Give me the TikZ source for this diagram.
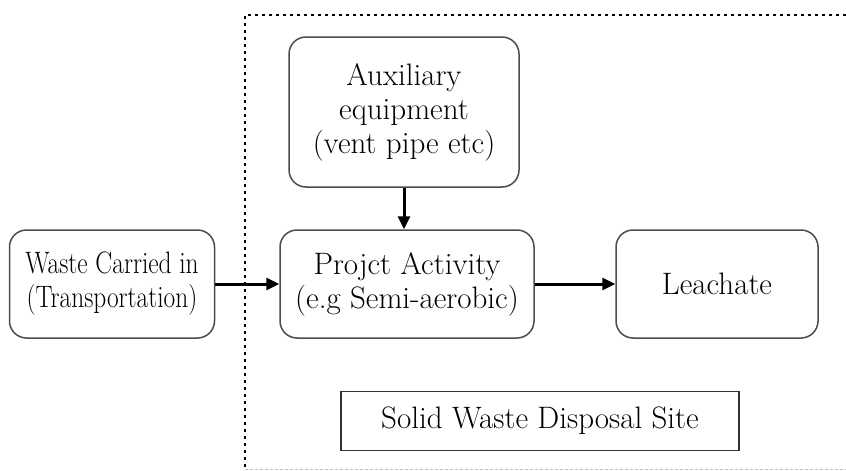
\documentclass[tikz,border=0pt]{standalone}
\usetikzlibrary{arrows.meta}
\begin{document}
\begin{tikzpicture}[x=1pt,y=-1pt,
  rbox/.style={draw=black!70, line width=1.5pt, rounded corners=17pt, fill=white,
    align=center, inner sep=0pt, font=\fontsize{31}{34}\selectfont},
  sbox/.style={draw=black!80, line width=1.5pt, fill=white, align=center, inner sep=0pt,
    font=\fontsize{31}{34}\selectfont},
  flow/.style={line width=3pt, -{Triangle[length=13pt,width=12pt]}},
  frame/.style={line width=2.6pt, dash pattern=on 2.6pt off 4.4pt},
  faint/.style={line width=0.8pt, draw=black!25, dash pattern=on 3pt off 2pt}]
\useasboundingbox (0,0) rectangle (846,471);
% dotted frame
\coordinate (ftl) at (245,15);
\coordinate (fbl) at (245,467);
\coordinate (ftr) at (846,15);
\coordinate (gbl) at (245,469);
\coordinate (gbr) at (846,469);
\draw[frame] (fbl) -- (ftl) -- (ftr);
\draw[faint] (gbl) -- (gbr);
% boxes
\node[rbox, minimum width=230pt, minimum height=150pt] (aux) at (404,112)
  {Auxiliary\\equipment\\(vent pipe etc)};
\node[rbox, minimum width=254pt, minimum height=108pt] (proj) at (407,284)
  {Projct Activity\\(e.g Semi-aerobic)};
\node[rbox, minimum width=205pt, minimum height=108pt] (waste) at (112,284)
  {\scalebox{0.82}[1]{\begin{tabular}{@{}c@{}}Waste Carried in\\(Transportation)\end{tabular}}};
\node[rbox, minimum width=202pt, minimum height=108pt] (leach) at (717,284)
  {Leachate};
\node[sbox, minimum width=398pt, minimum height=59pt] (site) at (540,421)
  {Solid Waste Disposal Site};
% connectors
\draw[flow] (aux.south) -- (aux.south |- proj.north);
\draw[flow] (waste.east) -- (proj.west);
\draw[flow] (proj.east) -- (leach.west);
\end{tikzpicture}
\end{document}
